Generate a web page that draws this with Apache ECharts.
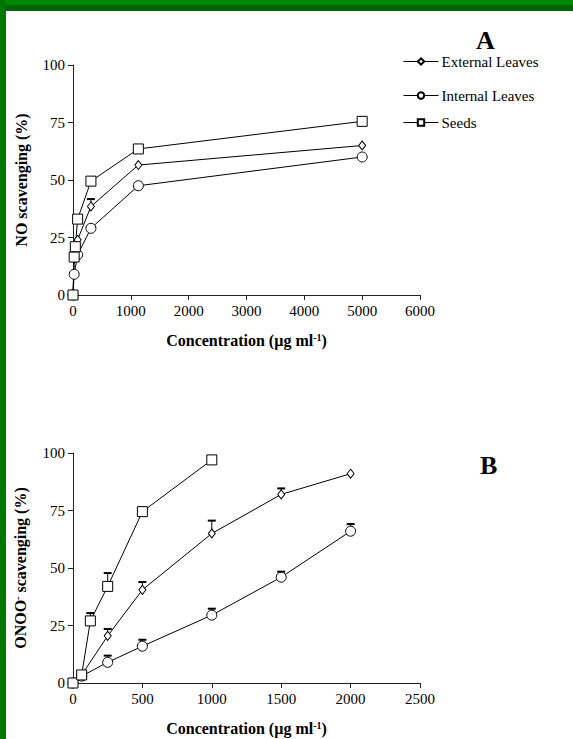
<!DOCTYPE html>
<html lang="en">
<head>
    <meta charset="UTF-8">
    <title>NO / ONOO- scavenging</title>
    <script type="text/javascript" src="https://cdn.jsdelivr.net/npm/echarts@6/dist/echarts.min.js"></script>
    <style>
        html, body { margin: 0; padding: 0; background: #fff; }
    </style>
</head>
<body>
<div id="main" style="width: 573px;height:739px;"></div>
<script>
    // ---- 图A: NO scavenging ----
    var noExternal = [[0, 0], [20, 16], [80, 24], [310, 38.5], [1130, 56.5], [5000, 65]];
    var noInternal = [[0, 0], [20, 9], [80, 17.5], [310, 29], [1130, 47.5], [5000, 60]];
    var noSeeds = [[0, 0], [20, 16.5], [40, 21], [80, 33], [310, 49.5], [1130, 63.5], [5000, 75.5]];
    var noErr = [[310, 38.5, 41.7]];   // [x, mean, mean+sd]

    // ---- 图B: ONOO- scavenging ----
    var onooExternal = [[0, 0], [62.5, 3.5], [250, 20.5], [500, 40.5], [1000, 65], [1500, 82], [2000, 91]];
    var onooInternal = [[0, 0], [62.5, 3], [250, 9], [500, 16], [1000, 29.5], [1500, 46], [2000, 66]];
    var onooSeeds = [[0, 0], [62.5, 3.5], [125, 27], [250, 42], [500, 74.5], [1000, 97]];
    var onooErr = [
        [125, 27, 30.4], [250, 42, 47.8], [500, 74.5, 75.6], [1000, 97, 97.6],
        [250, 20.5, 23.5], [500, 40.5, 43.9], [1000, 65, 70.6], [1500, 82, 84.6],
        [250, 9, 11.9], [500, 16, 18.8], [1000, 29.5, 32.3], [1500, 46, 48.4], [2000, 66, 69.1]
    ];

    var yTicks = [0, 25, 50, 75, 100];
    var legendNames = ['External Leaves', 'Internal Leaves', 'Seeds'];

    var serif = '"Liberation Serif", "DejaVu Serif", serif';

    var chart = echarts.init(document.getElementById('main'), null, {renderer: 'svg'});

    function axisBase() {
        return {
            axisLine: {lineStyle: {color: '#222', width: 1}},
            axisTick: {length: 5, lineStyle: {color: '#222'}},
            axisLabel: {color: '#000', fontFamily: serif, fontSize: 15, formatter: function (v) { return String(v); }},
            splitLine: {show: false},
            nameTextStyle: {color: '#000', fontFamily: serif, fontSize: 16, fontWeight: 'bold'}
        };
    }

    function xAxisOf(idx, max, interval) {
        var a = axisBase();
        a.type = 'value';
        a.gridIndex = idx;
        a.min = 0;
        a.max = max;
        a.interval = interval;
        a.axisLabel.margin = 8;
        a.name = 'Concentration (µg ml{sup|-1})';
        a.nameLocation = 'middle';
        a.nameGap = 37;
        a.nameTextStyle.rich = {sup: {fontSize: 10, fontWeight: 'bold', fontFamily: serif, padding: [0, 0, 6, 0]}};
        return a;
    }

    function yAxisOf(idx, name) {
        var a = axisBase();
        a.type = 'value';
        a.gridIndex = idx;
        a.min = 0;
        a.max = 100;
        a.interval = 25;
        a.axisLabel.margin = 8;
        a.axisLabel.formatter = function (v) { return yTicks.indexOf(v) >= 0 ? String(v) : ''; };
        a.name = name;
        a.nameLocation = 'middle';
        a.nameGap = 44;
        a.nameTextStyle.rich = {sup: {fontSize: 10, fontWeight: 'bold', fontFamily: serif, padding: [0, 0, 7, 0]}};
        return a;
    }

    function lineSeries(name, data, idx, symbol, size) {
        return {
            name: name,
            type: 'line',
            xAxisIndex: idx,
            yAxisIndex: idx,
            data: data,
            symbol: symbol,
            symbolSize: size,
            showAllSymbol: true,
            z: 3,
            lineStyle: {color: '#000', width: 1},
            itemStyle: {color: '#fff', borderColor: '#000', borderWidth: 1},
            emphasis: {disabled: true}
        };
    }

    // 误差线（只画上半部分）
    function errSeries(data, idx) {
        return {
            type: 'custom',
            xAxisIndex: idx,
            yAxisIndex: idx,
            data: data,
            z: 2,
            encode: {x: 0, y: [1, 2]},
            renderItem: function (params, api) {
                var p = api.coord([api.value(0), api.value(1)]);
                var t = api.coord([api.value(0), api.value(2)]);
                return {
                    type: 'group',
                    children: [
                        {type: 'line', shape: {x1: p[0], y1: p[1], x2: t[0], y2: t[1]}, style: {stroke: '#000', lineWidth: 1}},
                        {type: 'line', shape: {x1: t[0] - 4, y1: t[1], x2: t[0] + 4, y2: t[1]}, style: {stroke: '#000', lineWidth: 2}}
                    ]
                };
            }
        };
    }

    function legendOf(name, top) {
        return {
            data: [name],
            left: 403,
            top: top,
            padding: 0,
            itemWidth: 35,
            itemHeight: 8,
            itemGap: 2,
            selectedMode: false,
            lineStyle: {width: 1},
            textStyle: {color: '#000', fontFamily: serif, fontSize: 15, padding: [0, 0, 0, -2]}
        };
    }

    chart.setOption({
        animation: false,
        backgroundColor: '#fff',
        title: [
            {text: 'A', left: 471, top: 22, textStyle: {fontFamily: serif, fontSize: 26, fontWeight: 'bold', color: '#000'}},
            {text: 'B', left: 475, top: 447, textStyle: {fontFamily: serif, fontSize: 26, fontWeight: 'bold', color: '#000'}}
        ],
        legend: [
            legendOf(legendNames[0], 54),
            legendOf(legendNames[1], 88),
            legendOf(legendNames[2], 115)
        ],
        grid: [
            {left: 73, top: 65, width: 347, height: 230},
            {left: 73, top: 453, width: 347, height: 230}
        ],
        xAxis: [xAxisOf(0, 6000, 1000), xAxisOf(1, 2500, 500)],
        yAxis: [yAxisOf(0, 'NO scavenging (%)'), yAxisOf(1, 'ONOO{sup|-} scavenging (%)')],
        graphic: [
            {type: 'rect', shape: {x: 0, y: 0, width: 573, height: 5}, style: {fill: '#008800'}, z: 100},
            {type: 'rect', shape: {x: 0, y: 5, width: 573, height: 6}, style: {fill: '#006400'}, z: 100},
            {type: 'rect', shape: {x: 0, y: 0, width: 6, height: 739}, style: {fill: '#007800'}, z: 100}
        ],
        series: [
            errSeries(noErr, 0),
            lineSeries(legendNames[0], noExternal, 0, 'diamond', [7, 9]),
            lineSeries(legendNames[1], noInternal, 0, 'circle', 10),
            lineSeries(legendNames[2], noSeeds, 0, 'rect', 10),
            errSeries(onooErr, 1),
            lineSeries(legendNames[0], onooExternal, 1, 'diamond', [7, 9]),
            lineSeries(legendNames[1], onooInternal, 1, 'circle', 10),
            lineSeries(legendNames[2], onooSeeds, 1, 'rect', 10)
        ]
    });
</script>
</body>
</html>
